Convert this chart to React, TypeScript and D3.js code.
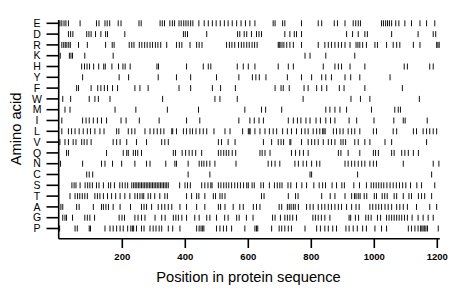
import React from 'react';
import * as d3 from 'd3';

// amino acid rows, top to bottom
const aminoAcids = ['E', 'D', 'R', 'K', 'H', 'Y', 'F', 'W', 'M', 'I', 'L', 'V', 'Q', 'N', 'C', 'S', 'T', 'A', 'G', 'P'];

const xTicks = [200, 400, 600, 800, 1000, 1200];
const seqLength = 1208;

// residue positions, one array per amino acid
const posE = [2, 8, 15, 21, 29, 66, 118, 126, 145, 152, 160, 187, 196, 253, 260, 320, 327, 334, 351, 359, 366, 380, 387, 395, 402, 409, 417, 424, 443, 460, 473, 486, 498, 511, 524, 536, 549, 563, 577, 591, 605, 621, 679, 685, 709, 716, 769, 822, 833, 873, 883, 907, 933, 941, 949, 956, 1023, 1029, 1036, 1042, 1048, 1055, 1068, 1078, 1097, 1118, 1145, 1166, 1192];
const posD = [29, 36, 43, 87, 94, 101, 115, 132, 147, 153, 208, 394, 400, 407, 468, 566, 573, 587, 595, 610, 626, 634, 642, 716, 732, 746, 753, 769, 912, 931, 949, 970, 978, 1055, 1139, 1187, 1195];
const posR = [8, 14, 19, 24, 30, 35, 61, 89, 147, 168, 174, 222, 230, 237, 254, 262, 271, 279, 288, 296, 305, 313, 322, 341, 372, 381, 389, 415, 436, 444, 453, 531, 540, 548, 557, 569, 578, 586, 595, 603, 612, 620, 628, 695, 698, 701, 707, 713, 722, 732, 743, 769, 822, 843, 854, 864, 875, 886, 896, 907, 923, 942, 948, 954, 963, 975, 1002, 1010, 1039, 1060, 1071, 1081, 1124, 1145, 1198, 1202, 1206];
const posK = [3, 32, 37, 42, 81, 171, 780, 796, 846, 938];
const posH = [71, 80, 88, 96, 109, 125, 141, 146, 167, 188, 202, 209, 225, 310, 315, 404, 457, 473, 481, 565, 584, 600, 621, 695, 727, 743, 838, 875, 886, 896, 923, 970, 1095, 1105, 1176, 1187];
const posY = [74, 190, 220, 314, 372, 417, 499, 570, 613, 624, 635, 656, 724, 769, 801, 833, 846, 864, 907, 925, 954, 1050];
const posF = [55, 61, 101, 122, 132, 143, 153, 169, 185, 240, 256, 282, 380, 417, 486, 512, 559, 685, 704, 711, 730, 777, 790, 817, 833, 849, 889, 904, 970, 1089];
const posW = [11, 36, 95, 113, 124, 161, 328, 494, 510, 565, 774, 926, 956, 986, 1143];
const posM = [18, 34, 177, 243, 343, 442, 589, 642, 655, 706, 846, 859, 875, 891, 912, 991, 1065, 1076, 1083];
const posI = [8, 74, 85, 95, 108, 121, 134, 150, 196, 212, 254, 317, 404, 446, 570, 605, 619, 634, 648, 727, 743, 756, 767, 783, 796, 815, 829, 846, 861, 875, 920, 944, 999, 1062, 1092, 1098, 1168];
const posL = [8, 29, 39, 50, 63, 76, 89, 99, 113, 129, 142, 182, 189, 219, 230, 240, 272, 288, 300, 311, 322, 332, 357, 360, 372, 394, 404, 415, 423, 434, 446, 457, 468, 491, 526, 542, 582, 600, 603, 606, 621, 637, 653, 667, 679, 690, 709, 724, 737, 753, 769, 780, 790, 806, 817, 827, 836, 840, 844, 870, 880, 891, 901, 917, 928, 938, 954, 997, 1007, 1060, 1071, 1124, 1134, 1155, 1166, 1176, 1187, 1198];
const posV = [2, 18, 29, 44, 53, 71, 79, 88, 101, 171, 182, 193, 214, 245, 277, 325, 335, 346, 505, 515, 536, 558, 648, 674, 695, 704, 712, 732, 735, 769, 790, 801, 811, 822, 838, 854, 864, 875, 894, 901, 909, 938, 949, 970, 986, 1034, 1055, 1166];
const posQ = [23, 29, 150, 203, 214, 219, 235, 242, 249, 261, 362, 369, 390, 401, 412, 422, 433, 452, 505, 513, 522, 530, 538, 549, 560, 637, 644, 653, 669, 737, 750, 763, 775, 790, 886, 894, 917, 954, 997, 1004, 1013, 1055, 1063, 1087, 1097, 1108, 1124, 1140];
const posN = [4, 74, 134, 145, 169, 198, 240, 277, 288, 338, 367, 372, 409, 444, 452, 459, 468, 478, 494, 561, 663, 674, 685, 700, 748, 759, 774, 785, 801, 817, 827, 907, 917, 928, 938, 949, 960, 970, 986, 997, 1007, 1092, 1187, 1205];
const posC = [87, 95, 106, 409, 478, 796, 801, 947, 1182];
const posS = [40, 47, 53, 66, 82, 90, 97, 105, 118, 126, 140, 156, 163, 175, 192, 200, 209, 217, 230, 236, 241, 246, 251, 256, 261, 266, 271, 276, 281, 286, 291, 296, 301, 306, 311, 316, 321, 326, 331, 336, 341, 346, 382, 399, 407, 416, 452, 462, 472, 481, 485, 505, 513, 522, 530, 538, 547, 557, 566, 575, 585, 595, 600, 612, 619, 640, 648, 667, 683, 692, 700, 707, 726, 735, 753, 770, 785, 808, 825, 836, 845, 866, 880, 897, 905, 935, 953, 975, 990, 998, 1006, 1014, 1022, 1030, 1040, 1050, 1060, 1070, 1080, 1090, 1100, 1115, 1135, 1150, 1192];
const posT = [34, 50, 58, 65, 73, 81, 89, 113, 121, 129, 140, 153, 166, 179, 193, 208, 224, 240, 248, 256, 263, 268, 282, 290, 303, 319, 335, 343, 404, 420, 436, 443, 462, 489, 496, 510, 517, 526, 642, 650, 727, 750, 758, 833, 860, 875, 907, 928, 937, 942, 949, 955, 968, 976, 1000, 1007, 1025, 1033, 1041, 1063, 1071, 1092, 1110, 1118, 1140, 1150, 1160, 1182];
const posA = [5, 11, 55, 63, 108, 134, 140, 148, 156, 171, 193, 226, 261, 269, 277, 293, 314, 325, 335, 346, 357, 383, 404, 436, 462, 505, 512, 526, 552, 573, 584, 616, 626, 637, 698, 706, 724, 730, 736, 743, 749, 759, 785, 796, 806, 822, 833, 843, 854, 864, 875, 886, 896, 912, 928, 942, 952, 986, 995, 1005, 1014, 1023, 1034, 1044, 1055, 1071, 1081, 1092, 1105, 1134, 1176, 1198];
const posG = [11, 18, 23, 42, 81, 89, 97, 112, 190, 199, 207, 240, 250, 261, 272, 304, 325, 336, 362, 370, 378, 389, 404, 430, 444, 468, 478, 499, 525, 536, 563, 571, 594, 615, 677, 685, 702, 716, 724, 732, 741, 753, 805, 813, 822, 832, 843, 859, 920, 925, 940, 950, 973, 981, 990, 1010, 1020, 1039, 1047, 1055, 1063, 1071, 1079, 1087, 1096, 1105, 1120, 1139, 1155, 1171, 1187];
const posP = [1, 50, 57, 95, 99, 145, 161, 171, 182, 193, 203, 217, 227, 232, 236, 245, 261, 269, 288, 298, 307, 317, 325, 346, 360, 383, 436, 444, 450, 455, 459, 499, 510, 521, 531, 547, 589, 621, 626, 630, 674, 698, 706, 716, 727, 737, 780, 817, 829, 843, 854, 868, 880, 910, 920, 933, 946, 963, 975, 1002, 1023, 1039, 1108, 1118, 1129, 1139, 1147, 1151, 1155, 1160, 1164, 1169, 1203];

const positions: Record<string, number[]> = {
    E: posE, D: posD, R: posR, K: posK, H: posH, Y: posY, F: posF, W: posW, M: posM, I: posI,
    L: posL, V: posV, Q: posQ, N: posN, C: posC, S: posS, T: posT, A: posA, G: posG, P: posP,
};

const width = 460;
const height = 299;
const margin = { top: 23.3, right: 20, bottom: 60, left: 59.3 };
const font = '"Liberation Sans", Arial, Helvetica, sans-serif';

export default function App() {
    const x = d3.scaleLinear().domain([0, seqLength]).range([margin.left, margin.left + 0.315 * seqLength]);
    const y = d3.scalePoint<string>().domain(aminoAcids).range([margin.top, 228.5]);
    const axisY = 238.7;
    const axisX = 58.7;

    return (
        <svg width={width} height={height} style={{ position: 'absolute', left: 0, top: 0, background: '#fff' }}>
            {/* residue marks */}
            <g stroke="#111" strokeWidth={1}>
                {aminoAcids.map(aa =>
                    positions[aa].map((p, i) => (
                        <line key={aa + i} x1={x(p)} x2={x(p)} y1={(y(aa) as number) - 3} y2={(y(aa) as number) + 3} />
                    ))
                )}
            </g>

            {/* axes */}
            <g stroke="#000" strokeWidth={1.6}>
                <line x1={axisX} x2={axisX} y1={20} y2={axisY} />
                <line x1={axisX} x2={x(seqLength)} y1={axisY} y2={axisY} />
                {aminoAcids.map(aa => (
                    <line key={aa} x1={46.5} x2={axisX} y1={y(aa)} y2={y(aa)} />
                ))}
                {xTicks.map(t => (
                    <line key={t} x1={x(t)} x2={x(t)} y1={axisY} y2={248} />
                ))}
            </g>

            <g fontFamily={font} fill="#000">
                {aminoAcids.map(aa => (
                    <text key={aa} x={37} y={y(aa)} dy="0.36em" textAnchor="middle" fontSize={10.5}>{aa}</text>
                ))}
                {xTicks.map(t => (
                    <text key={t} x={x(t)} y={257} dy="0.36em" textAnchor="middle" fontSize={9.5} fontWeight="bold">{t}</text>
                ))}
                <text x={248.5} y={277} dy="0.36em" textAnchor="middle" fontSize={14.7}>Position in protein sequence</text>
                <text transform="translate(16,129) rotate(-90)" dy="0.36em" textAnchor="middle" fontSize={14.7}>Amino acid</text>
            </g>
        </svg>
    );
}
